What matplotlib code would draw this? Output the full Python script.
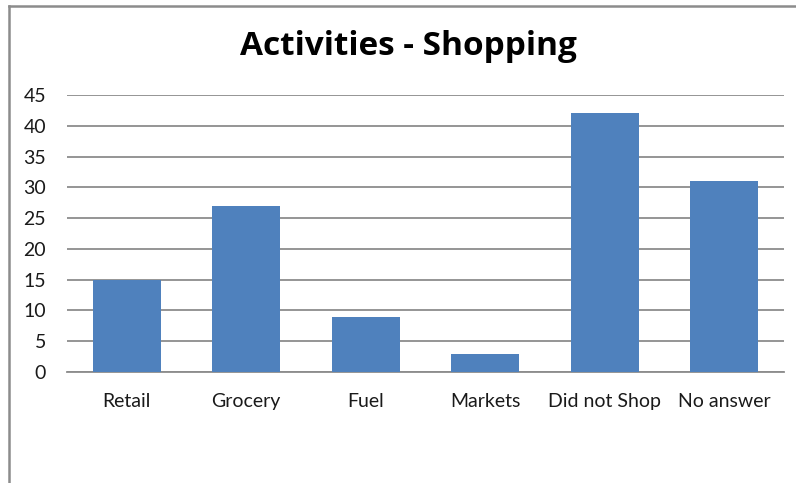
import matplotlib.pyplot as plt
from matplotlib.lines import Line2D

categories = ['Retail', 'Grocery', 'Fuel', 'Markets', 'Did not Shop', 'No answer']
counts = [15, 27, 9, 3, 42, 31]
yticks = [0, 5, 10, 15, 20, 25, 30, 35, 40, 45]

plt.rcParams['font.family'] = ['Lato', 'DejaVu Sans']

fig = plt.figure(figsize=(7.96, 4.83), dpi=100)
ax = fig.add_axes([67/796, 1 - 372/483, (784 - 67)/796, (372 - 95)/483])

ax.bar(range(len(categories)), counts, width=0.57, color='#4F81BD', zorder=3)
ax.set_xlim(-0.5, len(categories) - 0.5)
ax.set_ylim(0, 45)
ax.set_yticks(yticks)
ax.set_xticks(range(len(categories)))
ax.set_xticklabels(categories)
ax.yaxis.grid(True, color='#8c8c8c', linewidth=1.3, zorder=0)
for s in ['top', 'right', 'left']:
    ax.spines[s].set_visible(False)
ax.spines['bottom'].set_color('#8c8c8c')
ax.spines['bottom'].set_linewidth(1.3)
ax.tick_params(axis='both', length=0, labelsize=14, colors='#1a1a1a')
ax.tick_params(axis='y', pad=15)
ax.tick_params(axis='x', pad=15)

fig.text(408/796, 1 - 55/483, 'Activities - Shopping', ha='center', va='baseline',
         fontsize=24, fontweight='bold', color='black', family='Open Sans')

# outer chart border (left and top edges visible)
fig.add_artist(Line2D([9/796, 9/796], [0, 1 - 6/483], transform=fig.transFigure,
                      color='#8c8c8c', linewidth=1.8))
fig.add_artist(Line2D([9/796, 1], [1 - 6/483, 1 - 6/483], transform=fig.transFigure,
                      color='#8c8c8c', linewidth=1.8))

fig.savefig('out.png', dpi=100)
